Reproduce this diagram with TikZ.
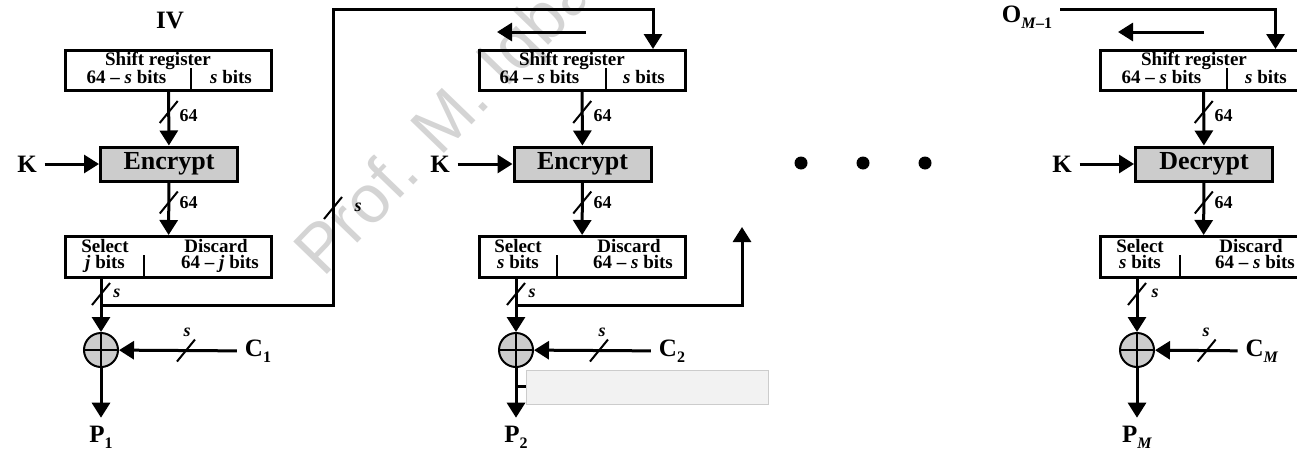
\documentclass[tikz,border=0pt]{standalone}
\usepackage{fontspec}
\setmainfont{Liberation Serif}
\newfontfamily\wmfont{Liberation Sans}
\usetikzlibrary{arrows.meta,decorations.markings}
\newcommand{\idx}[1]{\raisebox{-0.25em}{\fontsize{16}{16}\selectfont #1}}
\begin{document}
\begin{tikzpicture}[x=1pt,y=-1pt,line width=3pt,
  flow/.style={-{Triangle[width=18pt,length=15pt]}},
  regbox/.style={draw,minimum width=206pt,minimum height=40pt,inner sep=0pt},
  selbox/.style={draw,minimum width=206pt,minimum height=41pt,inner sep=0pt},
  cipher/.style={draw,fill=gray!40,minimum width=137pt,minimum height=34pt,inner sep=0pt,font=\fontsize{26}{26}\selectfont\bfseries},
  io/.style={font=\fontsize{25}{25}\selectfont\bfseries,inner sep=0pt,outer sep=8pt},
  txt/.style={font=\fontsize{19}{19}\selectfont\bfseries,inner sep=0pt,anchor=base},
  buslbl/.style={font=\fontsize{18}{18}\selectfont\bfseries,inner sep=0pt},
  div/.style={line width=1.5pt},
  xor/.style={circle,draw,line width=2pt,fill=gray!40,minimum size=34pt,inner sep=0pt,
    path picture={\draw[line width=1.5pt] (path picture bounding box.north) -- (path picture bounding box.south)
      (path picture bounding box.west) -- (path picture bounding box.east);}},
  bus/.style={postaction={decorate,decoration={markings,mark=at position #1 with
    {\pgftransformresetnontranslations\draw[-,line width=2pt] (-9pt,-11pt) -- (9pt,11pt);}}}},
  cover/.style={draw=black!20,fill=black!5,line width=1pt,minimum width=242pt,minimum height=34pt,inner sep=0pt}]
\useasboundingbox (0,0) rectangle (1297,458);

% watermark
\node[font=\wmfont\fontsize{68}{68}\selectfont,text=black!17,anchor=base west,rotate=46,inner sep=0pt] (wm) at (322,280) {Prof. M. Iqbal};

% first stage
\node[io] (iv) at (170,21) {IV};
\node[regbox] (reg1) at (168.5,70.5) {};
\node[txt] at (158,65) {Shift register};
\node[txt] at (126.5,83) {64 – \textit{s} bits};
\node[txt] at (231,83) {\textit{s} bits};
\draw[div] (191,68) -- (191,90.5);
\node[cipher] (enc1) at (169,164) {Encrypt};
\node[io] (k1) at (27,164) {K};
\node[selbox] (sel1) at (168.5,257) {};
\node[txt] at (105,252) {Select};
\node[txt] at (105,268) {\textit{j} bits};
\node[txt] at (216,252) {Discard};
\node[txt] at (220,268) {64 – \textit{j} bits};
\draw[div] (144,255) -- (144,277.5);
\node[xor] (x1) at (101,350) {};
\node[io] (c1) at (258,351) {C\idx{1}};
\node[io] (p1) at (101,437) {P\idx{1}};
\coordinate (j1) at (101,305);

% second stage
\node[regbox] (reg2) at (582,70.5) {};
\node[txt] at (572,65) {Shift register};
\node[txt] at (539.5,83) {64 – \textit{s} bits};
\node[txt] at (644,83) {\textit{s} bits};
\draw[div] (606,68) -- (606,90.5);
\node[cipher] (enc2) at (582.5,164) {Encrypt};
\node[io] (k2) at (440,164) {K};
\node[selbox] (sel2) at (582,257) {};
\node[txt] at (518,252) {Select};
\node[txt] at (518,268) {\textit{s} bits};
\node[txt] at (629,252) {Discard};
\node[txt] at (633,268) {64 – \textit{s} bits};
\draw[div] (557,255) -- (557,277.5);
\node[xor] (x2) at (516,350) {};
\node[io] (c2) at (672,351) {C\idx{2}};
\node[io] (p2) at (516,437) {P\idx{2}};
\coordinate (j2) at (516,305);
\coordinate (up2) at (742,227);
\coordinate (sh2a) at (586,32);
\coordinate (sh2b) at (497,32);
\coordinate (tk2) at (516,386);

% dots
\fill (801,163) circle (6.5);
\fill (863,163) circle (6.5);
\fill (925,163) circle (6.5);

% last stage
\node[io] (om) at (1027,17) {O\idx{\textit{M}–1}};
\node[regbox] (reg3) at (1203.5,70.5) {};
\node[txt] at (1194,65) {Shift register};
\node[txt] at (1161.5,83) {64 – \textit{s} bits};
\node[txt] at (1266,83) {\textit{s} bits};
\draw[div] (1227,68) -- (1227,90.5);
\node[cipher] (dec3) at (1204,164) {Decrypt};
\node[io] (k3) at (1062,164) {K};
\node[selbox] (sel3) at (1203.5,257) {};
\node[txt] at (1140,252) {Select};
\node[txt] at (1140,268) {\textit{s} bits};
\node[txt] at (1251,252) {Discard};
\node[txt] at (1255,268) {64 – \textit{s} bits};
\draw[div] (1180,255) -- (1180,277.5);
\node[xor] (x3) at (1137,350) {};
\node[io] (c3) at (1262,351) {C\idx{\textit{M}}};
\node[io] (p3) at (1137,437) {P\idx{\textit{M}}};
\coordinate (sh3a) at (1204,32);
\coordinate (sh3b) at (1118,32);

% connectors
\draw[flow,bus=20pt] (reg1) -- (enc1);
\node[buslbl,anchor=west] at (178,116) {64};
\draw[flow,bus=20pt] (enc1) -- (sel1);
\node[buslbl,anchor=west] at (178,203) {64};
\draw[flow] (k1) -- (enc1);
\draw[flow,bus=15pt] (sel1.south -| x1) -- (x1);
\node[buslbl] at (117,293) {\textit{s}};
\draw[flow,bus=329pt] (j1) -| (333,9) -| ([xshift=71pt]reg2.north);
\node[buslbl] at (358,207) {\textit{s}};
\draw[flow,bus=51pt] (c1) -- (x1);
\node[buslbl] at (187,332) {\textit{s}};
\draw[flow] (x1) -- (p1);

\draw[flow] (sh2a) -- (sh2b);
\draw[flow,bus=20pt] (reg2) -- (enc2);
\node[buslbl,anchor=west] at (592,116) {64};
\draw[flow,bus=20pt] (enc2) -- (sel2);
\node[buslbl,anchor=west] at (592,203) {64};
\draw[flow] (k2) -- (enc2);
\draw[flow,bus=15pt] (sel2.south -| x2) -- (x2);
\node[buslbl] at (532,293) {\textit{s}};
\draw[flow] (j2) -| (up2);
\draw[flow,bus=52pt] (c2) -- (x2);
\node[buslbl] at (602,332) {\textit{s}};
\draw[flow] (x2) -- (p2);
\draw (tk2) -- ++(12,0);

\draw[flow] ([yshift=8pt]om.east) -| ([xshift=72pt]reg3.north);
\draw[flow] (sh3a) -- (sh3b);
\draw[flow,bus=20pt] (reg3) -- (dec3);
\node[buslbl,anchor=west] at (1213,116) {64};
\draw[flow,bus=20pt] (dec3) -- (sel3);
\node[buslbl,anchor=west] at (1213,203) {64};
\draw[flow] (k3) -- (dec3);
\draw[flow,bus=15pt] (sel3.south -| x3) -- (x3);
\node[buslbl] at (1155,293) {\textit{s}};
\draw[flow,bus=31pt] (c3) -- (x3);
\node[buslbl] at (1206,332) {\textit{s}};
\draw[flow] (x3) -- (p3);

% grey patch
\node[cover] (hide) at (647,387) {};
\end{tikzpicture}
\end{document}
